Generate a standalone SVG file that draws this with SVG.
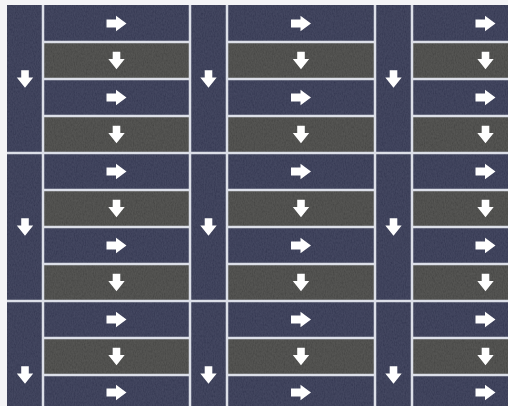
<svg xmlns="http://www.w3.org/2000/svg" xmlns:xlink="http://www.w3.org/1999/xlink" width="508" height="406" viewBox="0 0 508 406">
  <style>
    .navy { fill: #2e324e; }
    .gray { fill: #42423f; }
    .ln { stroke: #dcdfe8; stroke-width: 2.5; fill: none; }
    .arr { fill: #ffffff; }
  </style>
  <defs>
    <filter id="grain" x="0" y="0" width="100%" height="100%">
      <feTurbulence type="fractalNoise" baseFrequency="0.9 0.45" numOctaves="2" seed="3" result="n"/>
      <feColorMatrix in="n" type="matrix" values="1 0 0 0 0  1 0 0 0 0  1 0 0 0 0.03  0 0 0 0 0.12"/>
    </filter>
    <polygon id="ra" class="arr" points="-10,-4 -0.5,-4 -0.5,-7.8 10,0 -0.5,7.8 -0.5,4 -10,4"/>
    <polygon id="da" class="arr" points="-3.8,-8.8 3.8,-8.8 3.8,-1.5 8.2,-1.5 0,8.8 -8.2,-1.5 -3.8,-1.5"/>
  </defs>
  <rect width="508" height="406" fill="#f4f4f6"/>
  <rect x="7" y="5" width="501" height="401" class="navy"/>
  <g id="gray-tiles">
    <rect class="gray" x="43" y="42" width="147" height="37"/>
    <rect class="gray" x="43" y="116" width="147" height="37"/>
    <rect class="gray" x="43" y="190" width="147" height="37"/>
    <rect class="gray" x="43" y="264" width="147" height="37"/>
    <rect class="gray" x="43" y="338" width="147" height="37"/>
    <rect class="gray" x="227" y="42" width="148" height="37"/>
    <rect class="gray" x="227" y="116" width="148" height="37"/>
    <rect class="gray" x="227" y="190" width="148" height="37"/>
    <rect class="gray" x="227" y="264" width="148" height="37"/>
    <rect class="gray" x="227" y="338" width="148" height="37"/>
    <rect class="gray" x="412" y="42" width="96" height="37"/>
    <rect class="gray" x="412" y="116" width="96" height="37"/>
    <rect class="gray" x="412" y="190" width="96" height="37"/>
    <rect class="gray" x="412" y="264" width="96" height="37"/>
    <rect class="gray" x="412" y="338" width="96" height="37"/>
  </g>
  <rect x="7" y="5" width="501" height="401" filter="url(#grain)"/>
  <g id="lines" class="ln">
    <path d="M43,42H190M43,79H190M43,116H190M43,190H190M43,227H190M43,264H190M43,338H190M43,375H190"/>
    <path d="M227,42H375M227,79H375M227,116H375M227,190H375M227,227H375M227,264H375M227,338H375M227,375H375"/>
    <path d="M412,42H508M412,79H508M412,116H508M412,190H508M412,227H508M412,264H508M412,338H508M412,375H508"/>
    <path d="M7,153H508M7,301H508"/>
    <path d="M43,5V406M190,5V406M227,5V406M375,5V406M412,5V406"/>
  </g>
  <g id="arrows">
    <use xlink:href="#ra" x="116.5" y="23.5"/><use xlink:href="#da" x="116.5" y="60.5"/>
    <use xlink:href="#ra" x="116.5" y="97.5"/><use xlink:href="#da" x="116.5" y="134.5"/>
    <use xlink:href="#ra" x="116.5" y="171.5"/><use xlink:href="#da" x="116.5" y="208.5"/>
    <use xlink:href="#ra" x="116.5" y="245.5"/><use xlink:href="#da" x="116.5" y="282.5"/>
    <use xlink:href="#ra" x="116.5" y="319.5"/><use xlink:href="#da" x="116.5" y="356.5"/>
    <use xlink:href="#ra" x="116.5" y="392.5"/>
    <use xlink:href="#ra" x="301" y="23.5"/><use xlink:href="#da" x="301" y="60.5"/>
    <use xlink:href="#ra" x="301" y="97.5"/><use xlink:href="#da" x="301" y="134.5"/>
    <use xlink:href="#ra" x="301" y="171.5"/><use xlink:href="#da" x="301" y="208.5"/>
    <use xlink:href="#ra" x="301" y="245.5"/><use xlink:href="#da" x="301" y="282.5"/>
    <use xlink:href="#ra" x="301" y="319.5"/><use xlink:href="#da" x="301" y="356.5"/>
    <use xlink:href="#ra" x="301" y="392.5"/>
    <use xlink:href="#ra" x="485.5" y="23.5"/><use xlink:href="#da" x="485.5" y="60.5"/>
    <use xlink:href="#ra" x="485.5" y="97.5"/><use xlink:href="#da" x="485.5" y="134.5"/>
    <use xlink:href="#ra" x="485.5" y="171.5"/><use xlink:href="#da" x="485.5" y="208.5"/>
    <use xlink:href="#ra" x="485.5" y="245.5"/><use xlink:href="#da" x="485.5" y="282.5"/>
    <use xlink:href="#ra" x="485.5" y="319.5"/><use xlink:href="#da" x="485.5" y="356.5"/>
    <use xlink:href="#ra" x="485.5" y="392.5"/>
    <use xlink:href="#da" x="25" y="79"/><use xlink:href="#da" x="25" y="227"/><use xlink:href="#da" x="25" y="375"/>
    <use xlink:href="#da" x="208.5" y="79"/><use xlink:href="#da" x="208.5" y="227"/><use xlink:href="#da" x="208.5" y="375"/>
    <use xlink:href="#da" x="393.5" y="79"/><use xlink:href="#da" x="393.5" y="227"/><use xlink:href="#da" x="393.5" y="375"/>
  </g>
</svg>
